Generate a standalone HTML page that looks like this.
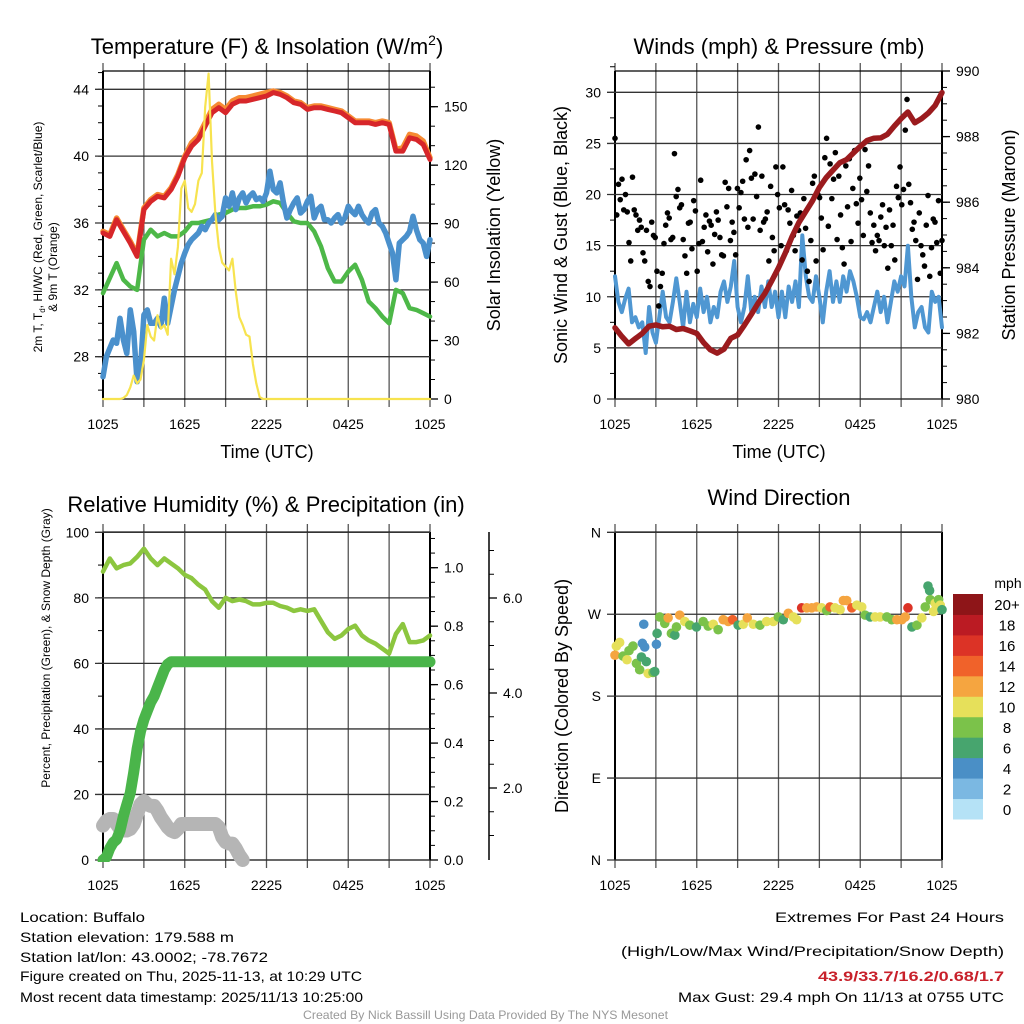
<!DOCTYPE html>
<html><head><meta charset="utf-8"><style>
html,body{margin:0;padding:0;background:#fff;}
svg{display:block;font-family:"Liberation Sans",sans-serif;}
</style></head><body>
<svg id="fig" width="1024" height="1024" viewBox="0 0 1024 1024" xmlns="http://www.w3.org/2000/svg">
<rect width="1024" height="1024" fill="#fff"/>
<g font-size="22" fill="#000" text-anchor="middle">
<text x="267" y="54">Temperature (F) &amp; Insolation (W/m<tspan font-size="14" dy="-9">2</tspan><tspan dy="9">)</tspan></text>
<text x="779" y="54">Winds (mph) &amp; Pressure (mb)</text>
<text x="266" y="512">Relative Humidity (%) &amp; Precipitation (in)</text>
<text x="779" y="505">Wind Direction</text>
</g>
<g font-size="18" text-anchor="middle">
<text x="267" y="458">Time (UTC)</text>
<text x="779" y="458">Time (UTC)</text>
<text transform="translate(500,235) rotate(-90)">Solar Insolation (Yellow)</text>
<text transform="translate(567,235) rotate(-90)">Sonic Wind &amp; Gust (Blue, Black)</text>
<text transform="translate(1015,235) rotate(-90)">Station Pressure (Maroon)</text>
<text transform="translate(568,696) rotate(-90)">Direction (Colored By Speed)</text>
</g>
<g font-size="12" text-anchor="middle">
<text transform="translate(42,237) rotate(-90)">2m T, T<tspan font-size="8" dy="3">d</tspan><tspan dy="-3">, HI/WC (Red, Green, Scarlet/Blue)</tspan></text>
<text transform="translate(57,267) rotate(-90)">&amp; 9m T (Orange)</text>
<text transform="translate(50,648) rotate(-90)">Percent, Precipitation (Green), &amp; Snow Depth (Gray)</text>
</g>
<g font-size="14" fill="#000">
<text x="20" y="922" textLength="125" lengthAdjust="spacingAndGlyphs">Location: Buffalo</text>
<text x="20" y="942" textLength="214" lengthAdjust="spacingAndGlyphs">Station elevation: 179.588 m</text>
<text x="20" y="962" textLength="248" lengthAdjust="spacingAndGlyphs">Station lat/lon: 43.0002; -78.7672</text>
<text x="20" y="981" textLength="342" lengthAdjust="spacingAndGlyphs">Figure created on Thu, 2025-11-13, at 10:29 UTC</text>
<text x="20" y="1002" textLength="343" lengthAdjust="spacingAndGlyphs">Most recent data timestamp: 2025/11/13 10:25:00</text>
<text x="775" y="922" textLength="229" lengthAdjust="spacingAndGlyphs">Extremes For Past 24 Hours</text>
<text x="621" y="956" textLength="383" lengthAdjust="spacingAndGlyphs">(High/Low/Max Wind/Precipitation/Snow Depth)</text>
<text x="818" y="981" textLength="186" lengthAdjust="spacingAndGlyphs" fill="#c8202a" font-weight="bold">43.9/33.7/16.2/0.68/1.7</text>
<text x="678" y="1002" textLength="326" lengthAdjust="spacingAndGlyphs">Max Gust: 29.4 mph On 11/13 at 0755 UTC</text>
<text x="303" y="1019" font-size="12" fill="#999" textLength="365" lengthAdjust="spacingAndGlyphs">Created By Nick Bassill Using Data Provided By The NYS Mesonet</text>
</g>
</svg>
<script>
// ---- data (hours since 1025 UTC) ----
const xTickLabels = ["1025","1625","2225","0425","1025"];
const xTickHours = [0,6,12,18,24];
const tempRed = [35.4,35.2,36.2,35.5,34.8,34.0,36.8,37.3,37.6,37.5,38.0,38.8,39.9,40.6,41.0,41.8,42.6,42.9,42.6,43.1,43.3,43.3,43.4,43.5,43.6,43.8,43.7,43.5,43.2,43.1,42.8,42.9,42.9,42.8,42.7,42.6,42.3,42.0,42.0,42.0,41.9,42.0,41.9,40.3,40.3,41.1,41.0,40.7,39.8];
const tempOrange = [35.5,35.3,36.3,35.6,34.9,34.1,36.9,37.4,37.7,37.6,38.1,38.9,40.0,40.8,41.2,42.0,42.8,43.1,42.8,43.3,43.5,43.5,43.6,43.7,43.8,43.9,43.8,43.6,43.3,43.2,42.9,43.0,43.0,42.9,42.8,42.7,42.4,42.1,42.1,42.1,42.0,42.1,42.0,40.4,40.5,41.3,41.2,40.9,39.9];
const dewGreen = [31.8,32.7,33.6,32.6,32.2,32.0,35.0,35.6,35.2,35.4,35.2,35.2,35.5,36.0,36.0,36.1,36.2,36.5,36.6,36.8,36.9,36.9,37.0,37.0,37.1,37.3,37.2,36.6,36.1,36.0,36.0,35.5,34.6,33.3,32.5,32.5,33.1,33.5,32.6,31.3,30.9,30.4,30.0,32.0,31.8,30.9,30.8,30.6,30.4];
const windChillBlue = [26.8,28.0,28.5,29.0,28.8,30.3,29.0,28.2,30.8,29.5,26.5,27.3,30.5,30.8,30.0,30.0,30.3,29.8,31.5,30.0,31.0,32.0,32.8,33.6,34.2,34.7,35.0,35.2,35.4,35.8,35.6,36.0,36.2,36.5,36.2,36.4,37.5,37.0,37.8,36.8,37.5,37.8,37.2,37.6,37.8,37.4,37.5,37.3,37.8,39.1,38.0,37.8,38.4,37.2,36.3,36.8,37.2,37.5,36.6,36.8,37.3,37.6,36.3,36.8,37.0,36.2,36.2,36.0,36.3,36.5,36.0,36.3,37.0,36.7,36.5,37.0,36.5,36.2,36.0,36.6,36.8,36.0,35.8,35.4,34.8,34.2,32.6,34.8,35.0,35.2,35.5,36.4,35.6,35.0,34.8,34.0,35.0];
const insolation = [0,0,0,0,0,0,0.5,2,6,12,8,10,20,38,32,30,43,36,38,33,72,64,78,108,112,98,96,100,112,116,150,167,122,95,78,70,68,66,72,55,42,38,33,32,18,8,1,0,0,0,0,0,0,0,0,0,0,0,0,0,0,0,0,0,0,0,0,0,0,0,0,0,0,0,0,0,0,0,0,0,0,0,0,0,0,0,0,0,0,0,0,0,0,0,0,0,0];
const pressure = [982.17,981.91,981.68,981.84,982.0,982.22,982.26,982.2,982.22,982.12,982.15,982.08,982.0,981.72,981.5,981.4,981.52,981.85,981.95,982.25,982.58,982.92,983.22,983.6,984.0,984.45,984.95,985.38,985.72,986.05,986.45,986.75,986.98,987.2,987.3,987.5,987.7,987.88,987.95,987.96,988.07,988.32,988.55,988.75,988.42,988.55,988.72,988.95,989.34];
const sonicWind = [12.0,9.5,8.5,9.8,10.8,7.5,8.0,7.0,7.5,4.5,9.0,6.5,5.5,8.0,10.5,8.0,7.5,9.5,11.8,9.5,7.0,10.5,7.5,9.3,8.0,10.8,8.5,10.0,7.5,9.0,8.0,10.5,11.5,9.5,11.0,13.5,9.0,7.5,9.0,12.0,8.5,10.0,8.5,11.0,9.0,11.5,9.0,10.5,8.0,10.5,8.0,11.0,9.5,11.5,9.0,16.0,12.0,10.0,9.5,12.0,10.0,7.5,10.5,12.5,9.5,11.5,9.5,12.0,10.5,12.5,11.5,10.0,8.0,7.8,8.5,7.5,9.0,10.5,8.5,10.0,7.5,9.5,11.5,10.5,12.0,11.0,15.0,10.0,7.0,8.5,9.0,7.0,6.5,10.5,9.5,10.0,7.0];
const gusts = [25.5,18,21,19.5,21.5,18.5,20,18.3,15.3,13.5,21.7,18.5,18,16.5,17.5,16.8,14.3,13.5,16.5,11.5,11,17.3,16,15.8,12.5,9.1,11,12.3,15.2,17,18.2,17.7,15.6,15.8,24,19.8,20.5,18.7,19,15.6,14,12.3,17.2,17.3,14.7,19.4,18.4,12.5,15.2,21.4,15.4,16.8,18,14.4,17.4,17,13.2,16.1,18.3,17.5,15.8,14.1,14,21.2,18.8,20.6,15.5,17.3,16.3,14.1,20.6,18.7,20.2,21.3,17.6,23.4,16.8,24.3,21.6,17.6,22,19.8,26.6,16.5,21.8,17.3,17.6,18.3,13.5,20.8,15.8,14.5,22.7,20,18.7,15,22.7,19,14.5,18.5,17.2,20.4,16,14.5,17.9,16.5,18.2,13.6,19.6,16.7,12.5,11.5,15.5,21.1,21.8,13.5,20,19.7,17.7,14.6,23.6,25.5,16.9,23,19.6,21.5,24.1,15.6,21.8,18,14.8,13.2,22.8,18.8,23.5,15.4,20.6,24.3,19.1,17.2,21.6,19.5,16,24.4,20.3,22.8,18.2,15.3,17,14.5,16,15.5,17.8,19,15,16.8,12.8,18.5,15,17,13.6,20.8,19.7,22.7,19,20.5,26.3,29.3,21,19.2,16.6,17.3,15.5,11.7,18.2,15,14.1,13,17,19.9,12,14.8,17.6,17.3,15.3,19.4,12.3,15.5];
const relHumidity = [88,92,89,90,90.5,92.5,95,92,90,92,90.5,89,87,86,84,82.5,79,77,80,79,79.5,79,78,78,78.5,78.5,77.5,77,76,76.5,76,76.5,73,69.5,67.5,68.5,70.5,71.5,68.5,67,66,64.5,63,69,72,66.5,66.5,67,68.5];
const precip = [0,0.01,0.04,0.06,0.07,0.10,0.15,0.19,0.23,0.30,0.38,0.44,0.48,0.51,0.54,0.56,0.59,0.62,0.65,0.67,0.678,0.678,0.678,0.678,0.678,0.678,0.678,0.678,0.678,0.678,0.678,0.678,0.678,0.678,0.678,0.678,0.678,0.678,0.678,0.678,0.678,0.678,0.678,0.678,0.678,0.678,0.678,0.678,0.678,0.678,0.678,0.678,0.678,0.678,0.678,0.678,0.678,0.678,0.678,0.678,0.678,0.678,0.678,0.678,0.678,0.678,0.678,0.678,0.678,0.678,0.678,0.678,0.678,0.678,0.678,0.678,0.678,0.678,0.678,0.678,0.678,0.678,0.678,0.678,0.678,0.678,0.678,0.678,0.678,0.678,0.678,0.678,0.678,0.678,0.678,0.678,0.678];
const snowDepth = [10.5,12,12.5,12.5,11,9.5,9,9,9.5,11,14,17,18,17,16.5,16.5,15,13,11.5,10,9,8.5,9.5,11,11,11,11,11,11,11,11,11,11,11,10,7,5.5,5,5,3.5,1.5,0];
const dirHours = [0,0.1,0.34,0.59,0.88,1.03,1.32,1.57,1.81,1.94,2.01,2.11,2.18,2.3,2.43,2.79,2.92,3.04,3.09,3.28,3.65,3.9,4.14,4.39,4.51,4.75,5.12,5.49,5.98,6.47,6.84,7.21,7.57,7.94,8.31,8.63,9.04,9.41,9.71,10.15,10.64,11.13,11.62,11.99,12.35,12.72,13.09,13.33,13.7,14.07,14.44,14.8,15.17,15.54,15.78,16.15,16.52,16.76,17.01,17.38,17.75,18.11,18.36,18.73,19.09,19.46,19.95,20.32,20.69,21.05,21.3,21.5,21.79,22.16,22.52,22.77,22.97,23.09,23.14,23.38,23.5,23.75,23.87,24.0];
const dirDegrees = [225,235,239,224,220,230,235,216,209,223,238,259,234,218,205,206,207,237,249,267,260,266,249,247,256,269,262,258,256,262,257,259,253,264,262,264,258,259,266,259,258,262,262,267,264,271,267,264,277,277,277,278,277,274,278,277,275,285,285,277,280,278,269,267,267,267,267,264,264,264,267,277,256,258,266,278,301,296,286,273,282,286,280,275];
const dirSpeeds = [12,10,10,8,10,8,8,8,8,6,4,4,4,6,10,8,6,4,6,8,8,12,8,6,8,12,10,8,6,8,8,10,8,12,12,14,6,10,12,10,8,10,10,8,6,12,10,10,16,12,12,12,10,8,14,10,10,12,12,14,10,10,8,6,10,10,8,8,12,12,12,16,6,8,10,8,6,6,8,10,10,8,10,6];
const speedBins = ["0","2","4","6","8","10","12","14","16","18","20+"];
const speedColors = ["#b5e2f6","#7bb8e2","#4a8fc6","#47a56e","#7bc24a","#e6e05a","#f5a540","#f0622a","#dc3326","#bb1b23","#8e1518"];

const NS="http://www.w3.org/2000/svg";
const fig=document.getElementById('fig');
function el(tag,attrs,parent){const e=document.createElementNS(NS,tag);for(const k in attrs)e.setAttribute(k,attrs[k]);(parent||fig).appendChild(e);return e;}
function scale(d0,d1,r0,r1){return v=>r0+(v-d0)/(d1-d0)*(r1-r0);}

function frame(P,name){
  const g=el('g',{});
  
  
  for(let h=0;h<=24;h+=3){
    const x=P.x(h);
    const l=el('line',{x1:x,x2:x,y1:P.y0-8,y2:P.y1+8,stroke:'#555','stroke-width':1.3},g);
    
    
  }
  xTickHours.forEach((h,i)=>{
    const t=el('text',{x:P.x(h),y:P.y1+30,'font-size':14,'text-anchor':'middle'},g);
    t.textContent=xTickLabels[i];
    
    
  });
  el('line',{x1:P.x0,x2:P.x1,y1:P.y0,y2:P.y0,stroke:'#000','stroke-width':1.3},g);
  el('line',{x1:P.x0,x2:P.x1,y1:P.y1,y2:P.y1,stroke:'#000','stroke-width':1.3},g);
  el('line',{x1:P.x0,x2:P.x0,y1:P.y0,y2:P.y1,stroke:'#000','stroke-width':2},g);
  el('line',{x1:P.x1,x2:P.x1,y1:P.y0,y2:P.y1,stroke:'#000','stroke-width':2},g);
  return g;
}
function leftAxis(P,ys,majors,minors,labelFn,grid){
  const g=el('g',{});
  
  
  minors.forEach(v=>el('line',{x1:P.x0-5,x2:P.x0,y1:ys(v),y2:ys(v),stroke:'#000','stroke-width':1},g));
  majors.forEach(v=>{
    el('line',{x1:P.x0-8,x2:grid?P.x1:P.x0,y1:ys(v),y2:ys(v),stroke:'#333','stroke-width':1.3},g);
    const t=el('text',{x:P.x0-14,y:ys(v)+5,'font-size':14,'text-anchor':'end'},g);
    t.textContent=labelFn(v);
    
    
  });
}
function rightAxis(P,ys,majors,minors,labelFn,xpos){
  const X=xpos||P.x1;
  const g=el('g',{});
  
  
  minors.forEach(v=>el('line',{x1:X,x2:X+5,y1:ys(v),y2:ys(v),stroke:'#000','stroke-width':1},g));
  majors.forEach(v=>{
    el('line',{x1:X,x2:X+8,y1:ys(v),y2:ys(v),stroke:'#000','stroke-width':1.3},g);
    const t=el('text',{x:X+14,y:ys(v)+5,'font-size':14},g);
    t.textContent=labelFn(v);
    
    
  });
}
function range(a,b,s){const r=[];for(let v=a;v<=b+1e-9;v+=s)r.push(+v.toFixed(4));return r;}
function line(P,step,arr,ys,color,w,name){
  const pts=arr.map((v,i)=>P.x(i*step).toFixed(1)+','+ys(v).toFixed(1)).join(' ');
  const p=el('polyline',{points:pts,fill:'none',stroke:color,'stroke-width':w,'stroke-linejoin':'round','stroke-linecap':'round','clip-path':'url(#'+P.clip+')'});
  
  
  return p;
}
function clip(P){
  const defs=el('defs',{});
  const c=el('clipPath',{id:P.clip},defs);
  el('rect',{x:P.x0-8,y:P.y0-2,width:P.x1-P.x0+16,height:P.y1-P.y0+4},c);
}

// ---- Panel 1: temperature ----
const P1={x0:103,x1:430,y0:71,y1:399,clip:'c1'};P1.x=scale(0,24,P1.x0,P1.x1);clip(P1);
const t1=scale(28,44,356.7,89.3), s1=scale(0,150,399,106.7);
frame(P1,'temperature');
leftAxis(P1,t1,[28,32,36,40,44],range(26,45,1),v=>v,true);
rightAxis(P1,s1,range(0,150,30),range(0,160,10),v=>v);
line(P1,0.5,tempOrange,t1,'#f68b33',5.5,'temp-9m-orange-line');
line(P1,0.5,tempRed,t1,'#d7262a',5,'temp-2m-red-line');
line(P1,0.5,dewGreen,t1,'#4db848',4.5,'dewpoint-green-line');
line(P1,0.25,windChillBlue,t1,'#4a90cc',5.5,'windchill-blue-line');
line(P1,0.25,insolation,s1,'#f7e34f',2.2,'insolation-yellow-line');

// ---- Panel 2: winds ----
const P2={x0:615,x1:942,y0:71,y1:399,clip:'c2'};P2.x=scale(0,24,P2.x0,P2.x1);clip(P2);
const w2=scale(0,30,399,92.3), p2=scale(980,990,399,71);
frame(P2,'wind');
leftAxis(P2,w2,range(0,30,5),range(0,32.5,2.5),v=>v,true);
rightAxis(P2,p2,range(980,990,2),range(980,990,0.5),v=>v);
line(P2,0.25,sonicWind,w2,'#4f97d2',4,'sonic-wind-blue-line');
{
  const g=el('g',{'clip-path':'url(#c2)'});
  
  
  const step=24/(gusts.length-1);
  gusts.forEach((v,i)=>{
    const c=el('circle',{cx:P2.x(i*step),cy:w2(v),r:2.8,fill:'#000'},g);
    
    
  });
}
line(P2,0.5,pressure,p2,'#9b1b1e',5.5,'pressure-maroon-line');

// ---- Panel 3: humidity ----
const P3={x0:103,x1:430,y0:532,y1:860,clip:'c3'};P3.x=scale(0,24,P3.x0,P3.x1);clip(P3);
const h3=scale(0,100,860,532.3), r3=scale(0,1,860,567.7);
frame(P3,'humidity');
leftAxis(P3,h3,range(0,100,20),range(0,100,10),v=>v,true);
rightAxis(P3,r3,range(0,1,0.2),range(0,1.1,0.05),v=>v.toFixed(1));
{
  const o=scale(2,6,788,598);
  el('line',{x1:489,x2:489,y1:532,y2:860,stroke:'#000','stroke-width':1.5});
  rightAxis(P3,o,[2,4,6],range(1,7,0.5),v=>v.toFixed(1),489);
}
line(P3,0.5,relHumidity,h3,'#8cc63f',4.5,'relative-humidity-line');
{
  const step=0.25;
  const pts=snowDepth.map((v,i)=>P3.x(i*step).toFixed(1)+','+h3(v).toFixed(1)).join(' ');
  const p=el('polyline',{points:pts,fill:'none',stroke:'#b5b5b5','stroke-width':14,'stroke-linejoin':'round','stroke-linecap':'round'});
  
  
}
line(P3,0.25,precip,r3,'#4ab54a',11,'precipitation-green-line');

// ---- Panel 4: wind direction ----
const P4={x0:615,x1:942,y0:532,y1:860,clip:'c4'};P4.x=scale(0,24,P4.x0,P4.x1);clip(P4);
const d4=scale(0,360,860,532.3);
frame(P4,'wind-direction');
leftAxis(P4,d4,[0,90,180,270,360],[],v=>({0:'N',90:'E',180:'S',270:'W',360:'N'})[v],true);
{
  const g=el('g',{});
  
  
  dirHours.forEach((h,i)=>{
    const bi=Math.min(10,Math.floor(dirSpeeds[i]/2));
    const c=el('circle',{cx:P4.x(h),cy:d4(dirDegrees[i]),r:4.8,fill:speedColors[bi]},g);
    
    
  });
}
{
  const g=el('g',{});
  
  
  const t=el('text',{x:1008,y:588,'font-size':14,'text-anchor':'middle'},g);
  t.textContent='mph';
  
  
  const h=(819-594)/speedBins.length;
  speedBins.forEach((lab,i)=>{
    const y=819-(i+1)*h;
    const r=el('rect',{x:953,y:y,width:30,height:h+0.5,fill:speedColors[i]},g);
    
    
    const tx=el('text',{x:1007,y:y+h/2+6,'font-size':15,'text-anchor':'middle'},g);
    tx.textContent=lab;
    
    
  });
}
</script>
</body></html>
